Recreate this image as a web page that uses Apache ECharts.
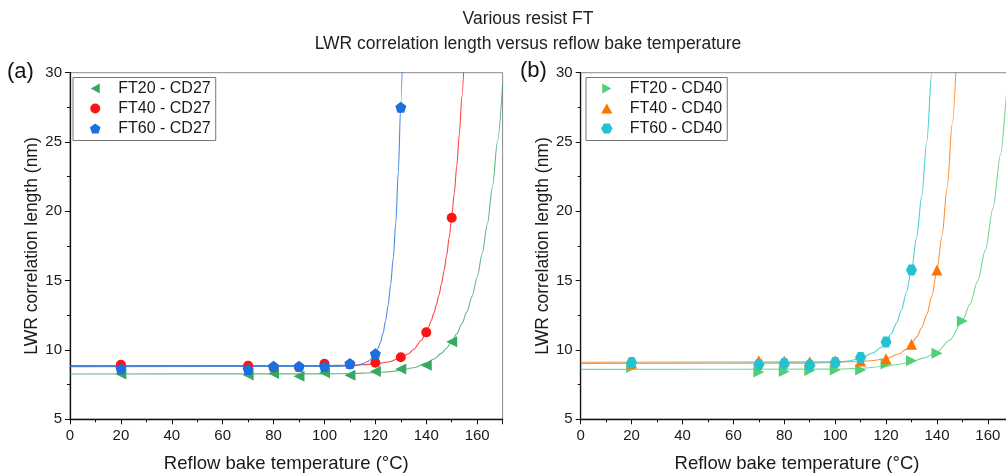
<!DOCTYPE html>
<html>
<head>
<meta charset="utf-8">
<script src="https://cdn.jsdelivr.net/npm/echarts@6/dist/echarts.min.js"></script>
<style>
html,body{margin:0;padding:0;background:#fff;overflow:hidden;}
#chart{width:1006px;height:475px;}
</style>
</head>
<body>
<div id="chart"></div>
<script>
// ---------- data ----------
const temps = [20, 70, 80, 90, 100, 110, 120, 130, 140, 150];
const xTicks = [0, 20, 40, 60, 80, 100, 120, 140, 160];
const yTicks = [5, 10, 15, 20, 25, 30];

// panel (a) measured points
const ft20cd27 = [8.27, 8.2, 8.3, 8.1, 8.35, 8.17, 8.45, 8.62, 8.9, 10.6];
const ft40cd27 = [8.94, 8.86, 8.73, 8.76, 9.01, 8.95, 9.08, 9.47, 11.27, 19.54];
const ft60cd27 = [8.65, 8.6, 8.83, 8.82, 8.8, 9.02, 9.72, 27.5];

// panel (b) measured points
const ft20cd40 = [8.73, 8.42, 8.44, 8.52, 8.56, 8.56, 8.98, 9.23, 9.76, 12.09];
const ft40cd40 = [9.04, 9.23, 9.2, 9.16, 9.23, 9.2, 9.36, 10.41, 15.76];
const ft60cd40 = [9.09, 8.95, 9.02, 8.89, 9.09, 9.46, 10.58, 15.76];

// fit curves ([temperature, length])
const fitFT20CD27 = [[0,8.27],[100,8.28],[110,8.3],[120,8.36],[125,8.42],[130,8.53],[135,8.72],[140,9.05],[143,9.35],[146,9.77],[148,10.14],[150,10.6],[152,11.17],[154,11.89],[156,12.77],[158,13.87],[160,15.25],[162,16.96],[164,19.07],[166,21.75],[168,25.07],[170,29.2]];
const fitFT40CD27 = [[0,8.87],[100,8.88],[110,8.9],[115,8.93],[120,9.0],[125,9.13],[130,9.43],[133,9.73],[135,10.03],[138,10.68],[140,11.3],[141,11.69],[142,12.14],[143,12.66],[144,13.27],[145,13.97],[146,14.78],[147,15.73],[148,16.82],[149,18.09],[150,19.57],[151,21.3],[152,23.3],[153,25.6],[154,28.3],[155,31.4]];
const fitFT60CD27 = [[0,8.8],[105,8.81],[110,8.84],[113,8.9],[115,9.0],[117,9.17],[118,9.3],[119,9.5],[120,9.75],[121,10.1],[122,10.55],[123,11.2],[124,12.1],[125,13.2],[126,14.7],[127,16.6],[128,19.1],[129,22.8],[130,27.8],[131,34]];

const fitFT20CD40 = [[0,8.6],[100,8.62],[110,8.67],[120,8.83],[125,8.97],[130,9.15],[135,9.43],[140,9.87],[145,10.7],[150,12.1],[153,13.32],[156,14.98],[159,17.2],[162,20.2],[165,24.1],[168,29.2],[171,36]];
const fitFT40CD40 = [[0,9.12],[100,9.14],[110,9.17],[115,9.24],[120,9.38],[125,9.71],[128,10.05],[130,10.43],[132,10.93],[134,11.6],[136,12.55],[138,13.9],[140,15.76],[142,18.26],[144,21.7],[146,26.3],[148,32.5]];
const fitFT60CD40 = [[0,9.02],[90,9.05],[100,9.1],[105,9.2],[110,9.4],[115,9.8],[118,10.17],[120,10.6],[122,11.15],[124,11.9],[126,12.85],[128,14.15],[130,15.8],[132,18.1],[134,21.1],[136,25.0],[138,30.1],[140,36.7]];

const namesA = ['FT20 - CD27', 'FT40 - CD27', 'FT60 - CD27'];
const namesB = ['FT20 - CD40', 'FT40 - CD40', 'FT60 - CD40'];

// ---------- styling ----------
const FONT = 'Arial, "Liberation Sans", sans-serif';
const SYM = {
  triLeft: 'path://M0,5 L9,0 L9,10 Z',
  triRight: 'path://M9,5 L0,0 L0,10 Z',
  triUp: 'path://M5,0 L10,9 L0,9 Z',
  pentagon: 'path://M0,-10 L9.51,-3.09 L5.88,8.09 L-5.88,8.09 L-9.51,-3.09 Z',
  hexagon: 'path://M-10,0 L-5,-8.66 L5,-8.66 L10,0 L5,8.66 L-5,8.66 Z'
};

const toPts = arr => arr.map((v, i) => [temps[i], v]);

function scatter(name, arr, idx, symbol, size, color) {
  return {
    type: 'scatter', name: name, xAxisIndex: idx, yAxisIndex: idx,
    data: toPts(arr), symbol: symbol, symbolSize: size,
    itemStyle: { color: color, opacity: 1 }, z: 5, clip: true
  };
}
function fit(name, pts, idx, color) {
  return {
    type: 'line', name: name + ' fit', xAxisIndex: idx, yAxisIndex: idx,
    data: pts, showSymbol: false, symbol: 'none', smooth: 0.3, smoothMonotone: 'x',
    lineStyle: { color: color, width: 1.1, opacity: 0.8 }, itemStyle: { color: color },
    z: 3, clip: true, silent: true
  };
}

function xAxis(idx) {
  return {
    type: 'value', gridIndex: idx, min: 0, max: 170, interval: 20,
    name: 'Reflow bake temperature (°C)', nameLocation: 'middle', nameGap: 35,
    nameTextStyle: { fontSize: 18.5, fontFamily: FONT, color: '#1a1a1a' },
    axisLine: { show: true, onZero: false, lineStyle: { color: '#111', width: 1.3 } },
    axisTick: { show: true, inside: false, length: 5, lineStyle: { color: '#111', width: 1 } },
    minorTick: { show: true, splitNumber: 2, length: 3, lineStyle: { color: '#111', width: 1 } },
    splitLine: { show: false }, minorSplitLine: { show: false },
    axisLabel: { fontSize: 15, fontFamily: FONT, color: '#1a1a1a', margin: 9, showMaxLabel: false,
      formatter: v => (xTicks.indexOf(v) >= 0 ? String(v) : '') }
  };
}
function yAxis(idx) {
  return {
    type: 'value', gridIndex: idx, min: 5, max: 30, interval: 5,
    name: 'LWR correlation length (nm)', nameLocation: 'middle', nameGap: 29,
    nameTextStyle: { fontSize: 17.5, fontFamily: FONT, color: '#1a1a1a' },
    axisLine: { show: true, onZero: false, lineStyle: { color: '#111', width: 1.3 } },
    axisTick: { show: true, inside: false, length: 5, lineStyle: { color: '#111', width: 1 } },
    minorTick: { show: true, splitNumber: 2, length: 3, lineStyle: { color: '#111', width: 1 } },
    splitLine: { show: false }, minorSplitLine: { show: false },
    axisLabel: { fontSize: 15, fontFamily: FONT, color: '#1a1a1a', margin: 8,
      formatter: v => (yTicks.indexOf(v) >= 0 ? String(v) : '') }
  };
}

function legend(left, padLeft, names) {
  return {
    orient: 'vertical', left: left, top: 77.5,
    data: names, itemWidth: 36, itemHeight: 10, itemGap: 4,
    padding: [3, 5, 4, padLeft],
    borderColor: '#777', borderWidth: 1, backgroundColor: '#fff',
    textStyle: { fontSize: 16, lineHeight: 16, fontFamily: FONT, color: '#1a1a1a' },
    selectedMode: false
  };
}

const colors = {
  g1: '#37a862', r: '#ff1414', b: '#1c6fde',
  g2: '#4fd077', o: '#ff7400', c: '#22c2cf'
};

const option = {
  animation: false,
  backgroundColor: '#fff',
  textStyle: { fontFamily: FONT },
  graphic: [
    { type: 'text', x: 528, y: 19, style: { text: 'Various resist FT', fontSize: 17.5, fontFamily: FONT, fill: '#222', align: 'center', verticalAlign: 'middle' } },
    { type: 'text', x: 528, y: 44, style: { text: 'LWR correlation length versus reflow bake temperature', fontSize: 17.5, fontFamily: FONT, fill: '#222', align: 'center', verticalAlign: 'middle' } },
    { type: 'text', x: 7, y: 72, style: { text: '(a)', fontSize: 22, fontFamily: FONT, fill: '#111', align: 'left', verticalAlign: 'middle' } },
    { type: 'text', x: 520, y: 71, style: { text: '(b)', fontSize: 22, fontFamily: FONT, fill: '#111', align: 'left', verticalAlign: 'middle' } }
  ],
  grid: [
    { left: 70, top: 72.7, width: 432.6, height: 346.6, show: true, borderColor: '#8a8a8a', borderWidth: 1, backgroundColor: 'transparent', containLabel: false, outerBoundsMode: 'none' },
    { left: 580.7, top: 72.7, width: 432.6, height: 346.6, show: true, borderColor: '#8a8a8a', borderWidth: 1, backgroundColor: 'transparent', containLabel: false, outerBoundsMode: 'none' }
  ],
  xAxis: [xAxis(0), xAxis(1)],
  yAxis: [yAxis(0), yAxis(1)],
  legend: [legend(73, 17, namesA), legend(586, 15, namesB)],
  series: [
    fit(namesA[0], fitFT20CD27, 0, colors.g1),
    fit(namesA[1], fitFT40CD27, 0, colors.r),
    fit(namesA[2], fitFT60CD27, 0, colors.b),
    fit(namesB[0], fitFT20CD40, 1, colors.g2),
    fit(namesB[1], fitFT40CD40, 1, colors.o),
    fit(namesB[2], fitFT60CD40, 1, colors.c),
    scatter(namesA[0], ft20cd27, 0, SYM.triLeft, 11, colors.g1),
    scatter(namesA[1], ft40cd27, 0, 'circle', 10, colors.r),
    scatter(namesA[2], ft60cd27, 0, SYM.pentagon, 11, colors.b),
    scatter(namesB[0], ft20cd40, 1, SYM.triRight, 11, colors.g2),
    scatter(namesB[1], ft40cd40, 1, SYM.triUp, 11, colors.o),
    scatter(namesB[2], ft60cd40, 1, SYM.hexagon, 11, colors.c)
  ]
};

const chart = echarts.init(document.getElementById('chart'), null, { renderer: 'canvas' });
chart.setOption(option);
</script>
</body>
</html>
